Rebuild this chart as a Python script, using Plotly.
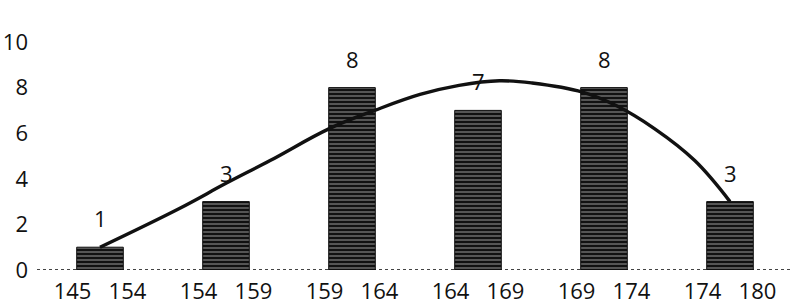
import plotly.graph_objects as go

categories = ["145\u00a0\u00a0\u00a0154", "154\u00a0\u00a0\u00a0159", "159\u00a0\u00a0\u00a0164",
              "164\u00a0\u00a0\u00a0169", "169\u00a0\u00a0\u00a0174", "174\u00a0\u00a0\u00a0180"]
counts = [1, 3, 8, 7, 8, 3]

# trend curve (x in category-index units)
curve_x = [0.0, 0.63, 1.0, 1.35, 1.82, 2.18, 2.54, 2.85, 3.17, 3.43, 3.83, 4.1, 4.4, 4.72, 5.0]
curve_y = [1.0, 2.7, 3.8, 4.8, 6.2, 7.0, 7.7, 8.1, 8.3, 8.2, 7.8, 7.2, 6.2, 4.8, 3.0]

y_ticks = [0, 2, 4, 6, 8, 10]

positions = list(range(len(categories)))
FONT = "Open Sans"

fig = go.Figure()
fig.add_trace(go.Bar(
    x=positions, y=counts, width=0.37,
    marker=dict(color="#111111",
                line=dict(color="#111111", width=1),
                pattern=dict(shape="-", fgcolor="#f4f4f4", size=4, solidity=0.3)),
    showlegend=False,
))
fig.add_trace(go.Scatter(
    x=curve_x, y=curve_y, mode="lines",
    line=dict(color="#111111", width=3.4, shape="spline", smoothing=1.1),
    showlegend=False,
))

for p, v in zip(positions, counts):
    fig.add_annotation(x=p, y=v, text=str(v), showarrow=False, yshift=29,
                       font=dict(family=FONT, size=22, color="#111111"))

fig.add_shape(type="line", xref="paper", yref="y", x0=0, x1=1, y0=0, y1=0,
              line=dict(color="#444444", width=2, dash="dot"), layer="below")

fig.update_layout(
    width=793, height=306,
    margin=dict(l=37, r=0, t=42, b=36, autoexpand=False),
    plot_bgcolor="white", paper_bgcolor="white",
    font=dict(family=FONT, size=22, color="#111111"),
    bargap=0.63,
)
fig.update_xaxes(range=[-0.5, 5.5], tickmode="array", tickvals=positions, ticktext=categories,
                 showgrid=False, zeroline=False, showline=False, ticks="",
                 ticklabelstandoff=6, automargin=False,
                 tickfont=dict(family=FONT, size=22, color="#111111"))
fig.update_yaxes(range=[0, 10], tickmode="array", tickvals=y_ticks, ticktext=[str(t) for t in y_ticks],
                 showgrid=False, zeroline=False, showline=False, ticks="",
                 ticklabelstandoff=8, automargin=False,
                 tickfont=dict(family=FONT, size=22, color="#111111"))

fig.write_html("out.html")
